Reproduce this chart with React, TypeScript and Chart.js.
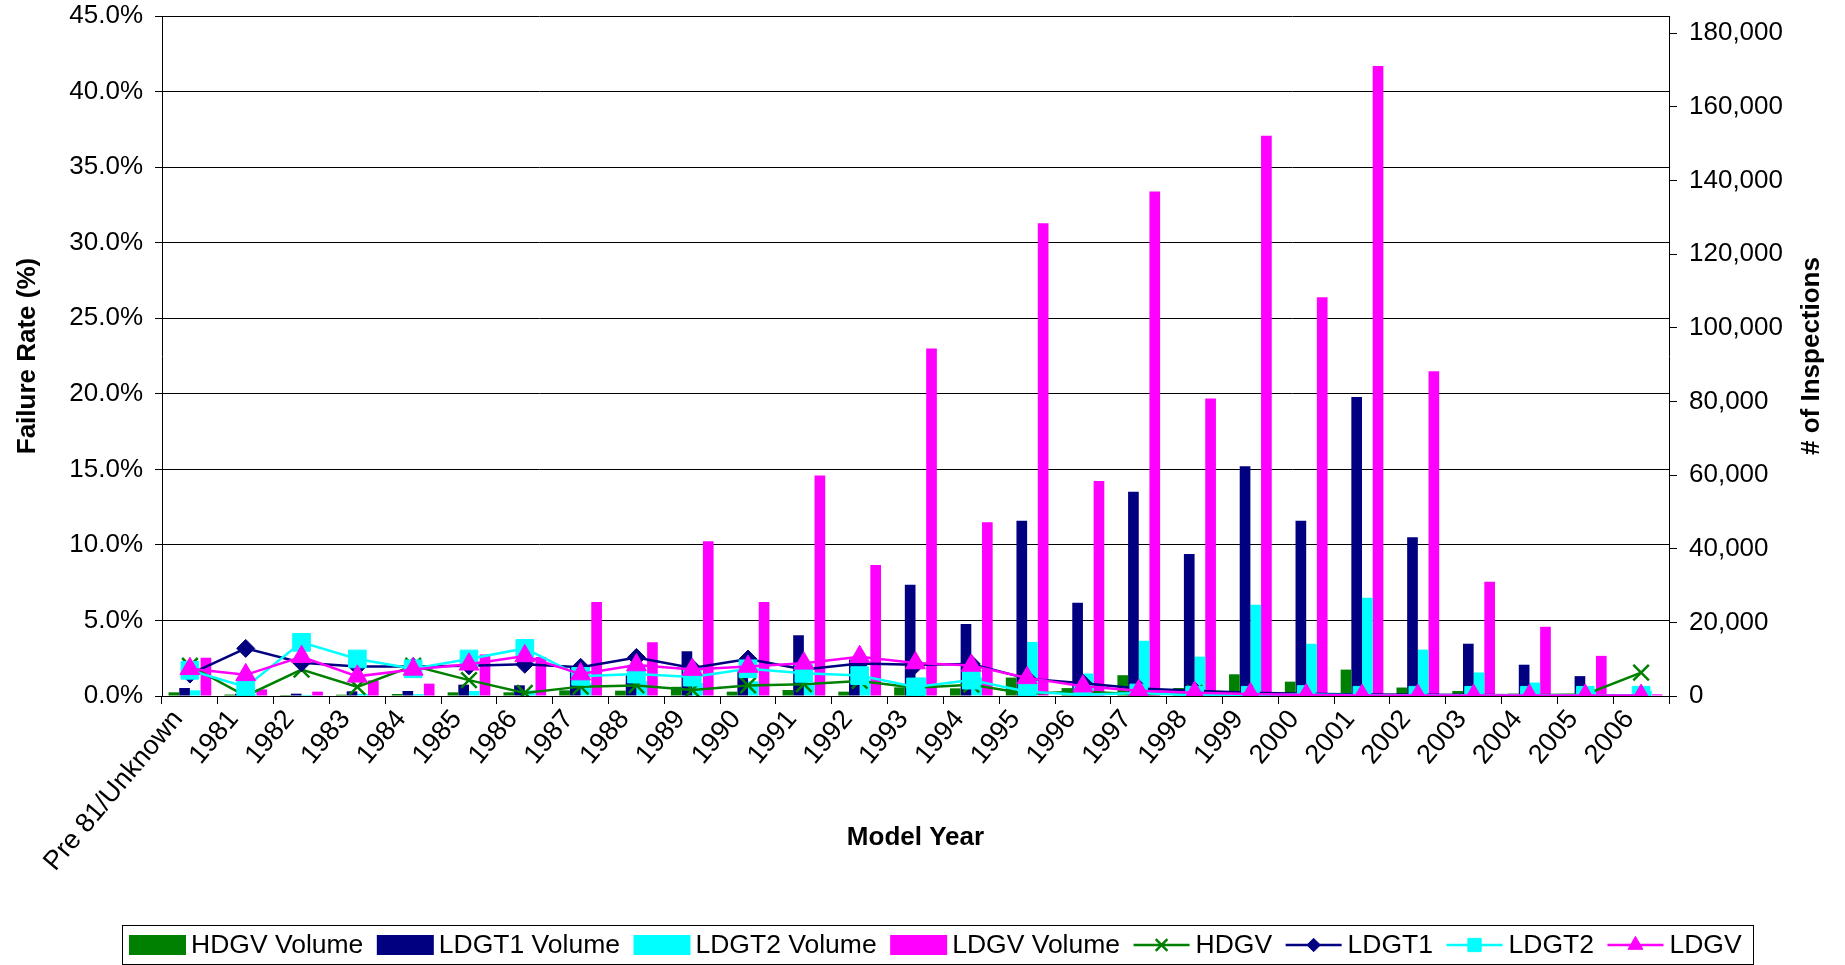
import React, { useEffect, useRef } from 'react';
import { Chart, registerables } from 'chart.js';
import { drawPoint } from 'chart.js/helpers';

Chart.register(...registerables);

const categories = [
  'Pre 81/Unknown', '1981', '1982', '1983', '1984', '1985', '1986', '1987', '1988', '1989',
  '1990', '1991', '1992', '1993', '1994', '1995', '1996', '1997', '1998', '1999',
  '2000', '2001', '2002', '2003', '2004', '2005', '2006',
];

// Volumes (# of inspections, right axis)
const hdgvVolume = [1000, 400, 270, 360, 540, 1000, 1000, 1540, 1450, 2500, 1180, 1630, 1180, 2350, 2080, 5000, 2150, 5650, 2180, 5900, 3900, 7170, 2300, 1360, 640, 450, 100];
const ldgt1Volume = [2170, 630, 630, 1270, 1360, 3080, 2900, 7700, 5700, 12150, 6800, 16500, 9900, 30200, 19550, 47600, 25300, 55500, 38600, 62400, 47600, 81200, 43100, 14200, 8500, 5400, 100];
const ldgt2Volume = [1540, 500, 300, 600, 500, 1360, 1500, 3500, 4000, 3500, 4000, 3500, 4500, 5000, 5000, 14700, 6100, 15000, 10700, 24800, 14200, 26700, 12600, 6400, 3650, 1800, 1400];
const ldgvVolume = [10400, 1800, 1180, 4250, 3350, 11300, 10600, 25500, 14600, 42000, 25500, 59900, 35600, 94400, 47200, 128400, 58400, 137000, 80800, 152200, 108300, 171100, 88200, 31000, 18800, 10900, 450];

// Failure rates (%, left axis)
const hdgvRate = [2.0, 0.0, 1.75, 0.6, 2.0, 1.05, 0.2, 0.62, 0.7, 0.4, 0.7, 0.78, 1.0, 0.55, 0.75, 0.15, 0.3, 0.1, 0.2, 0.1, 0.1, 0.05, 0.05, 0.05, 0.05, 0.1, 1.55];
const ldgt1Rate = [1.45, 3.15, 2.2, 1.95, 1.95, 2.0, 2.1, 1.9, 2.55, 1.85, 2.45, 1.75, 2.15, 2.07, 2.12, 1.15, 0.85, 0.5, 0.35, 0.22, 0.15, 0.1, 0.08, 0.06, 0.05, 0.05, 0.05];
const ldgt2Rate = [1.7, 0.6, 3.55, 2.45, 1.8, 2.45, 3.15, 1.3, 1.45, 1.25, 1.8, 1.5, 1.35, 0.6, 1.05, 0.28, 0.08, 0.2, 0.05, 0.05, 0.1, 0.05, 0.05, 0.05, 0.05, 0.05, 0.05];
const ldgvRate = [1.8, 1.4, 2.6, 1.3, 1.76, 2.1, 2.65, 1.45, 2.05, 1.75, 1.95, 2.16, 2.6, 2.18, 2.02, 1.2, 0.65, 0.35, 0.22, 0.13, 0.07, 0.04, 0.04, 0.03, 0.03, 0.03, 0.03];

// Tick values
const leftTicks = [0, 5, 10, 15, 20, 25, 30, 35, 40, 45];
const rightTicks = [0, 20000, 40000, 60000, 80000, 100000, 120000, 140000, 160000, 180000];

const FONT = '"Liberation Sans", Arial, Helvetica, sans-serif';
const GREEN = '#008000';
const NAVY = '#000080';
const CYAN = '#00FFFF';
const MAGENTA = '#FF00FF';

const legendPlugin = {
  id: 'boxLegend',
  afterDraw(chart: any) {
    const ctx = chart.ctx;
    ctx.save();
    ctx.strokeStyle = '#000';
    ctx.lineWidth = 1;
    ctx.strokeRect(122.5, 925.5, 1631, 39);
    ctx.font = `26.5px ${FONT}`;
    ctx.textBaseline = 'middle';
    ctx.textAlign = 'left';
    const cy = 945;
    let x = 129;
    chart.data.datasets.forEach((ds: any) => {
      if (ds.type === 'line') {
        ctx.strokeStyle = ds.borderColor;
        ctx.lineWidth = 2.5;
        ctx.beginPath();
        ctx.moveTo(x, cy);
        ctx.lineTo(x + 56, cy);
        ctx.stroke();
        ctx.fillStyle = ds.pointBackgroundColor;
        ctx.strokeStyle = ds.borderColor;
        ctx.lineWidth = ds.pointBorderWidth || 1;
        drawPoint(ctx, { pointStyle: ds.pointStyle, rotation: 0, radius: ds.pointRadius * 0.75, borderWidth: ds.pointBorderWidth || 1 }, x + 28, cy);
      } else {
        ctx.fillStyle = ds.backgroundColor;
        ctx.fillRect(x, cy - 10, 57, 20);
      }
      x += 62;
      ctx.fillStyle = '#000';
      ctx.fillText(ds.label, x, cy + 1);
      x += ctx.measureText(ds.label).width + 13.5;
    });
    ctx.restore();
  },
};

const rightTitlePlugin = {
  id: 'rightTitle',
  afterDraw(chart: any) {
    const ctx = chart.ctx;
    const area = chart.chartArea;
    ctx.save();
    ctx.translate(1812, (area.top + area.bottom) / 2);
    ctx.rotate(-Math.PI / 2);
    ctx.font = `bold 26px ${FONT}`;
    ctx.fillStyle = '#000';
    ctx.textAlign = 'center';
    ctx.textBaseline = 'middle';
    ctx.fillText('# of Inspections', 0, 0);
    ctx.restore();
  },
};

export default function App() {
  const canvasRef = useRef<HTMLCanvasElement | null>(null);

  useEffect(() => {
    if (!canvasRef.current) return;
    Chart.defaults.font.family = FONT;
    const tickFont = { size: 26, family: FONT };
    const xTickFont = { size: 27, family: FONT };
    const titleFont = { size: 26, weight: 'bold' as const, family: FONT };

    const bar = (label: string, data: number[], color: string) => ({
      type: 'bar' as const,
      label,
      data,
      backgroundColor: color,
      borderWidth: 0,
      yAxisID: 'y1',
      barPercentage: 1.0,
      categoryPercentage: 0.765,
      order: 10,
    });
    const line = (label: string, data: number[], color: string, pointStyle: string, radius: number, order: number) => ({
      type: 'line' as const,
      label,
      data,
      borderColor: color,
      backgroundColor: color,
      pointBackgroundColor: color,
      pointBorderColor: color,
      pointBorderWidth: pointStyle === 'crossRot' ? 2.5 : 1,
      pointStyle,
      pointRadius: radius,
      borderWidth: 2.5,
      fill: false,
      tension: 0,
      yAxisID: 'y',
      order,
    });

    const chart = new Chart(canvasRef.current, {
      type: 'bar',
      data: {
        labels: categories,
        datasets: [
          bar('HDGV Volume', hdgvVolume, GREEN),
          bar('LDGT1 Volume', ldgt1Volume, NAVY),
          bar('LDGT2 Volume', ldgt2Volume, CYAN),
          bar('LDGV Volume', ldgvVolume, MAGENTA),
          line('HDGV', hdgvRate, GREEN, 'crossRot', 11, 4),
          line('LDGT1', ldgt1Rate, NAVY, 'rectRot', 9, 3),
          line('LDGT2', ldgt2Rate, CYAN, 'rect', 12.5, 2),
          line('LDGV', ldgvRate, MAGENTA, 'triangle', 11.5, 1),
        ] as any,
      },
      options: {
        responsive: true,
        maintainAspectRatio: false,
        animation: false,
        layout: { padding: { top: 16, left: 0, right: 0, bottom: 69 } },
        plugins: {
          legend: { display: false },
          tooltip: { enabled: false },
        },
        scales: {
          x: {
            offset: true,
            grid: { offset: true, drawOnChartArea: false, drawTicks: true, tickLength: 8, color: '#000' },
            border: { color: '#000', width: 1 },
            ticks: { autoSkip: false, minRotation: 50, maxRotation: 50, font: xTickFont, color: '#000', padding: 0, labelOffset: -12 },
            title: { display: true, text: 'Model Year', font: titleFont, color: '#000', padding: { top: 0, bottom: 43 } },
            afterFit: (s: any) => { s.height = 200; s.paddingLeft = 0; s.paddingRight = 0; },
          },
          y: {
            position: 'left',
            min: 0,
            max: 45,
            ticks: { callback: (v: any) => Number(v).toFixed(1) + '%', font: tickFont, color: '#000', padding: 12 },
            grid: { color: '#000', lineWidth: 1, tickLength: 7 },
            border: { color: '#000', width: 1 },
            title: { display: true, text: 'Failure Rate (%)', font: titleFont, color: '#000', padding: { top: 12, bottom: 0 } },
            afterBuildTicks: (s: any) => { s.ticks = leftTicks.map((v) => ({ value: v })); },
            afterFit: (s: any) => { s.width = 162; s.paddingTop = 0; s.paddingBottom = 0; },
          },
          y1: {
            position: 'right',
            min: 0,
            max: 184700,
            ticks: { callback: (v: any) => Number(v).toLocaleString('en-US'), font: tickFont, color: '#000', padding: 12 },
            grid: { drawOnChartArea: false, tickLength: 8, color: '#000' },
            border: { color: '#000', width: 1 },
            afterBuildTicks: (s: any) => { s.ticks = rightTicks.map((v) => ({ value: v })); },
            afterFit: (s: any) => { s.width = 176; s.paddingTop = 0; s.paddingBottom = 0; },
          },
        },
      } as any,
      plugins: [legendPlugin, rightTitlePlugin],
    });
    return () => chart.destroy();
  }, []);

  return (
    <div style={{ position: 'fixed', left: 0, top: 0, width: 1845, height: 965, background: '#fff' }}>
      <canvas ref={canvasRef} />
    </div>
  );
}
